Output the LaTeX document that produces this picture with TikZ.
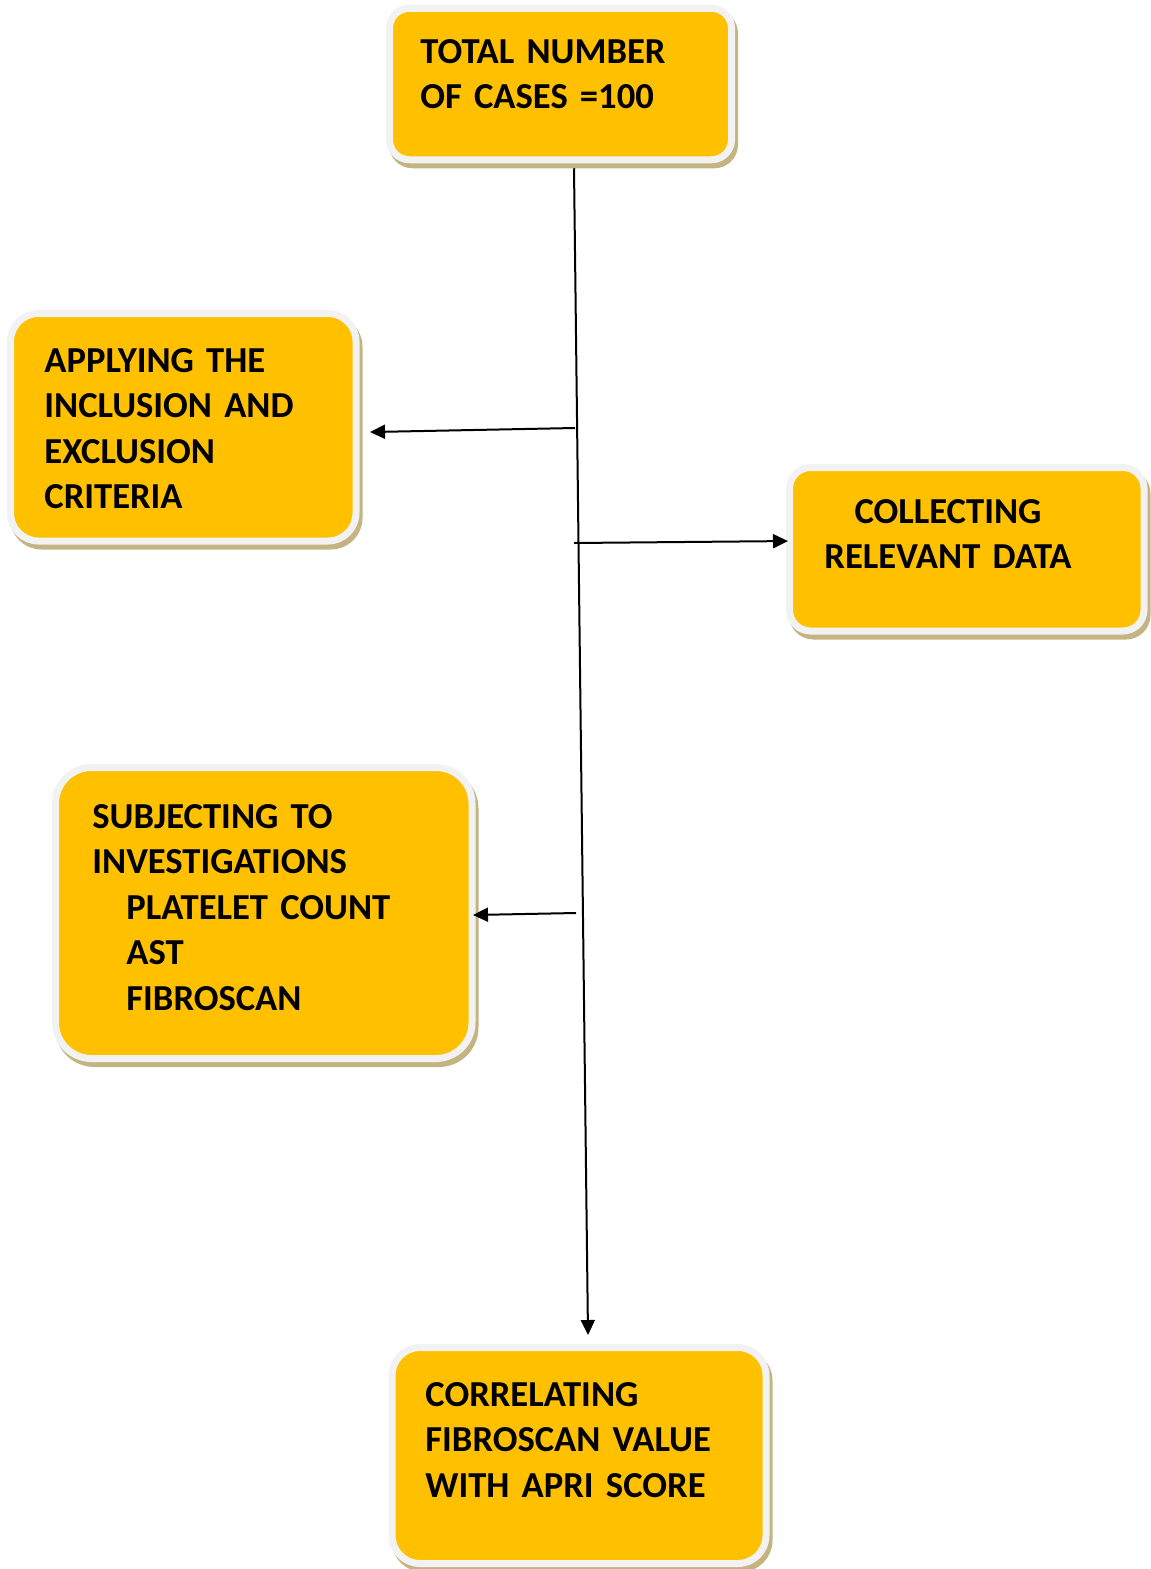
\documentclass[tikz,border=0pt]{standalone}
\usepackage{fontspec}
\setmainfont{Carlito}
\usetikzlibrary{arrows.meta}
\definecolor{boxfill}{RGB}{255,192,0}
\definecolor{boxrim}{RGB}{242,242,242}
\definecolor{boxshade}{RGB}{196,180,130}
\newcommand{\boxfont}{\fontsize{18.3}{22.75}\selectfont\bfseries}

\begin{document}
\begin{tikzpicture}[x=0.5pt,y=-0.5pt,
  box/.style={draw=boxrim,fill=boxfill,line width=3.5pt,outer sep=0pt,inner sep=0pt,
    preaction={draw=boxshade,fill=boxshade,line width=3.5pt,transform canvas={shift={(1.5pt,-2.5pt)}}}},
  words/.style={inner sep=0pt,anchor=base west,text width=180pt,align=left,font=\boxfont},
  conn/.style={line width=1pt,-{Triangle[length=7.5pt,width=7pt]}}]
\useasboundingbox (0,0) rectangle (1151,1569);

% boxes
\node[box,minimum width=171pt,minimum height=75.75pt,rounded corners=10pt] (total) at (560.5,84) {};
\node[box,minimum width=172.75pt,minimum height=113.75pt,rounded corners=14pt] (apply) at (183.25,427.25) {};
\node[box,minimum width=177.25pt,minimum height=81.75pt,rounded corners=10.5pt] (collect) at (966.75,549.25) {};
\node[box,minimum width=208.25pt,minimum height=145.5pt,rounded corners=18pt] (subj) at (263.75,913) {};
\node[box,minimum width=187pt,minimum height=108pt,rounded corners=14pt] (correl) at (579,1455.5) {};

% texts
\node[words] (totaltxt) at (420,63) {TOTAL NUMBER\\OF CASES =100};
\node[words] (applytxt) at (44,372) {APPLYING THE\\INCLUSION AND\\EXCLUSION\\CRITERIA};
\node[words,anchor=base,align=center] (collecttxt) at (948,523) {COLLECTING\\RELEVANT DATA};
\node[words] (subjtxt) at (92,828) {SUBJECTING TO\\INVESTIGATIONS\\\hspace*{17pt}PLATELET COUNT\\\hspace*{17pt}AST\\\hspace*{17pt}FIBROSCAN};
\node[words] (correltxt) at (425,1406) {CORRELATING\\FIBROSCAN VALUE\\WITH APRI SCORE};

% arrows
\coordinate (fork1) at (575,428);
\coordinate (fork2) at (574,543);
\coordinate (fork3) at (576,913);
\draw[conn] ([xshift=6.75pt,yshift=-4.25pt]total.south) -- ([xshift=4.5pt,yshift=6.25pt]correl.north);
\draw[conn] (fork1) -- ([xshift=7pt,yshift=-2.4pt]apply.east);
\draw[conn] (fork2) -- ([xshift=-0.75pt,yshift=4.1pt]collect.west);
\draw[conn] (fork3) -- ([xshift=0.5pt,yshift=-1pt]subj.east);
\end{tikzpicture}
\end{document}
